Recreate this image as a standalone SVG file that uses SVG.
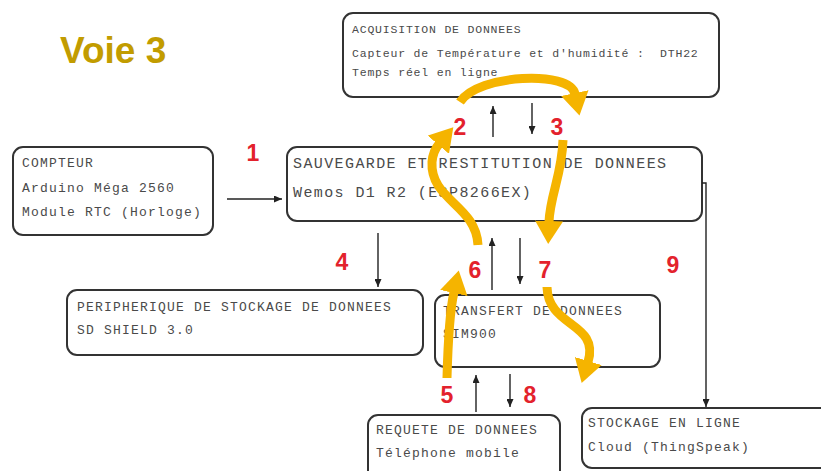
<svg xmlns="http://www.w3.org/2000/svg" width="821" height="471" viewBox="0 0 821 471">
<style>
.box{fill:#fff;stroke:#333;stroke-width:2}
.t{font-family:"Liberation Mono","DejaVu Sans Mono",monospace;font-size:13px;letter-spacing:1.2px;fill:#4a4a4a}
.ts{font-family:"Liberation Mono","DejaVu Sans Mono",monospace;font-size:11.5px;letter-spacing:0.8px;fill:#4a4a4a}
.tl{font-family:"Liberation Mono","DejaVu Sans Mono",monospace;font-size:15px;letter-spacing:1.4px;fill:#4a4a4a}
.num{font-family:"Liberation Sans",Arial,sans-serif;font-size:23px;font-weight:bold;fill:#e3222c;text-anchor:middle}
.c{fill:none;stroke:#222;stroke-width:1.4}
.y{fill:none;stroke:#f5b400;stroke-width:9}
</style>
<defs>
<marker id="ah" markerUnits="userSpaceOnUse" markerWidth="8" markerHeight="7" viewBox="0 0 8 7" refX="8" refY="3.5" orient="auto"><path d="M0,0 L8,3.5 L0,7 z" fill="#222"/></marker>
<marker id="ya" markerUnits="userSpaceOnUse" markerWidth="23" markerHeight="28" viewBox="0 0 23 28" refX="1" refY="14" orient="auto"><path d="M0,0 L23,14 L0,28 z" fill="#f5b400"/></marker>
</defs>
<rect width="821" height="471" fill="#fff"/>
<text x="60" y="63" font-family="Liberation Sans,Arial,sans-serif" font-size="37" font-weight="bold" fill="#c29c00">Voie 3</text>

<g id="acquisition">
<rect class="box" x="343" y="13" width="376" height="84" rx="10"/>
<text class="ts" x="352" y="33">ACQUISITION DE DONNEES</text>
<text class="ts" x="352" y="57">Capteur de Température et d'humidité :&#160; DTH22</text>
<text class="ts" x="352" y="76">Temps réel en ligne</text>
</g>
<g id="compteur">
<rect class="box" x="13" y="147" width="200" height="88" rx="10"/>
<text class="t" x="22" y="167">COMPTEUR</text>
<text class="t" x="22" y="192">Arduino Méga 2560</text>
<text class="t" x="22" y="216">Module RTC (Horloge)</text>
</g>
<g id="sauvegarde">
<rect class="box" x="287" y="147" width="415" height="74" rx="10"/>
<text class="tl" x="293" y="168">SAUVEGARDE ET RESTITUTION DE DONNEES</text>
<text class="tl" x="293" y="197">Wemos D1 R2 (ESP8266EX)</text>
</g>
<g id="peripherique">
<rect class="box" x="67" y="290" width="356" height="65" rx="10"/>
<text class="t" x="77" y="311">PERIPHERIQUE DE STOCKAGE DE DONNEES</text>
<text class="t" x="77" y="334">SD SHIELD 3.0</text>
</g>
<g id="transfert">
<rect class="box" x="435" y="295" width="225" height="72" rx="10"/>
<text class="t" x="443" y="315">TRANSFERT DE DONNEES</text>
<text class="t" x="443" y="338">SIM900</text>
</g>
<g id="requete">
<rect class="box" x="368" y="415" width="192" height="70" rx="10"/>
<text class="t" x="376" y="434">REQUETE DE DONNEES</text>
<text class="t" x="376" y="457">Téléphone mobile</text>
</g>
<g id="stockage">
<rect class="box" x="582" y="408" width="260" height="60" rx="10"/>
<text class="t" x="588" y="427">STOCKAGE EN LIGNE</text>
<text class="t" x="588" y="451">Cloud (ThingSpeak)</text>
</g>

<g id="connectors">
<path class="c" d="M227 199 H282" marker-end="url(#ah)"/>
<path class="c" d="M493 137 V106" marker-end="url(#ah)"/>
<path class="c" d="M532 103 V134" marker-end="url(#ah)"/>
<path class="c" d="M378 233 V287" marker-end="url(#ah)"/>
<path class="c" d="M492 290 V238" marker-end="url(#ah)"/>
<path class="c" d="M520 238 V284" marker-end="url(#ah)"/>
<path class="c" d="M476 412 V375" marker-end="url(#ah)"/>
<path class="c" d="M510 374 V407" marker-end="url(#ah)"/>
<path class="c" d="M702 183 H706 V407" marker-end="url(#ah)"/>
</g>

<g id="flow-arrows">
<path class="y" d="M460 102 C478 74, 570 70, 575 94" marker-end="url(#ya)"/>
<path class="y" d="M478 245 C476 205, 430 200, 432 162 Q433 151 439 144" marker-end="url(#ya)"/>
<path class="y" d="M563 140 C562 175, 550 195, 549 222" marker-end="url(#ya)"/>
<path class="y" d="M447 378 C448 340, 450 310, 454 292" marker-end="url(#ya)"/>
<path class="y" d="M547 287 C548 328, 600 322, 588 362" marker-end="url(#ya)"/>
</g>

<g id="labels">
<text class="num" x="253" y="161">1</text>
<text class="num" x="460" y="135">2</text>
<text class="num" x="557" y="135">3</text>
<text class="num" x="342" y="270">4</text>
<text class="num" x="447" y="403">5</text>
<text class="num" x="475" y="278">6</text>
<text class="num" x="545" y="278">7</text>
<text class="num" x="530" y="403">8</text>
<text class="num" x="673" y="273">9</text>
</g>
</svg>
